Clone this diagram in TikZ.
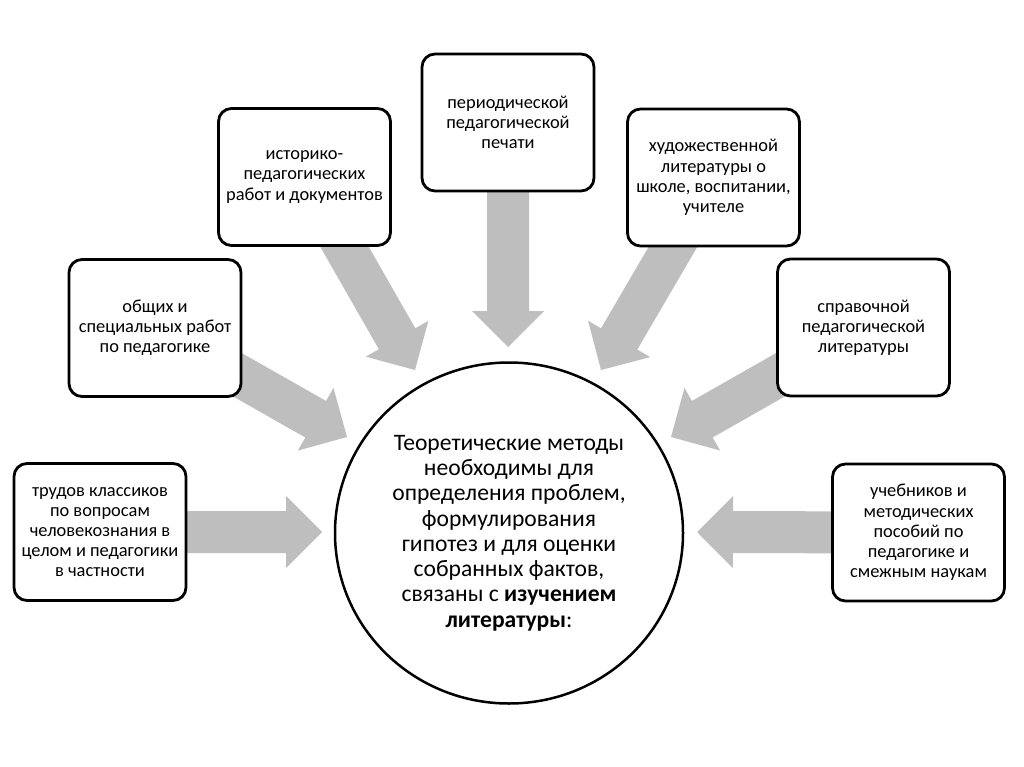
\documentclass[tikz,border=0pt]{standalone}
\usepackage{fontspec}
\setmainfont{Carlito}
\usetikzlibrary{calc,shapes.geometric}
\definecolor{arrowgray}{RGB}{190,190,190}
\tikzset{
  box/.style={draw=black, line width=2.8pt, rounded corners=13pt, fill=white,
    minimum width=172pt, minimum height=137pt, align=center,
    font=\fontsize{18.4}{20.2}\selectfont, inner sep=2pt},
  hub/.style={ellipse, draw=black, line width=2.5pt, fill=white,
    minimum width=348pt, minimum height=341pt, align=center, inner sep=0pt,
    font=\fontsize{23.6}{25.3}\selectfont},
}
\newcommand{\fatarrow}[2]{%
  \fill[arrowgray] ($(#1)!21pt!90:(#2)$)
    -- ($(#2)!36pt!(#1)!21pt!-90:(#1)$)
    -- ($(#2)!36pt!(#1)!36pt!-90:(#1)$)
    -- (#2)
    -- ($(#2)!36pt!(#1)!36pt!90:(#1)$)
    -- ($(#2)!36pt!(#1)!21pt!90:(#1)$)
    -- ($(#1)!21pt!-90:(#2)$) -- cycle;}
\begin{document}
\begin{tikzpicture}[x=1pt,y=-1pt]
\useasboundingbox (0,0) rectangle (1024,767);
\fill[white] (0,0) rectangle (1024,767);
% anchor points for boxes
\coordinate (c1) at (100,532);
\coordinate (c2) at (155,328);
\coordinate (c3) at (304.5,177);
\coordinate (c4) at (508,122.5);
\coordinate (c5) at (713.5,177.5);
\coordinate (c6) at (863.5,327.5);
\coordinate (c7) at (918.5,532.5);
% arrow tips
\coordinate (t1) at (322,532);
\coordinate (t2) at (347,437);
\coordinate (t3) at (415,370);
\coordinate (t4) at (508,347);
\coordinate (t5) at (601,370);
\coordinate (t6) at (671,437);
\coordinate (t7) at (697,532);
% arrows
\fatarrow{c1}{t1}
\fatarrow{c2}{t2}
\fatarrow{c3}{t3}
\fatarrow{c4}{t4}
\fatarrow{c5}{t5}
\fatarrow{c6}{t6}
\fatarrow{c7}{t7}
% boxes
\node[box] (b1) at (c1) {трудов классиков\\по вопросам\\человекознания в\\целом и педагогики\\в частности};
\node[box] (b2) at (c2) {общих и\\специальных работ\\по педагогике};
\node[box] (b3) at (c3) {историко-\\педагогических\\работ и документов};
\node[box] (b4) at (c4) {периодической\\педагогической\\печати};
\node[box] (b5) at (c5) {художественной\\литературы о\\школе, воспитании,\\учителе};
\node[box] (b6) at (c6) {справочной\\педагогической\\литературы};
\node[box] (b7) at (c7) {учебников и\\методических\\пособий по\\педагогике и\\смежным наукам};
% central circle
\node[hub] (hub) at (509,533) {Теоретические методы\\необходимы для\\определения проблем,\\формулирования\\гипотез и для оценки\\собранных фактов,\\связаны с \textbf{изучением}\\\textbf{литературы}:};
\end{tikzpicture}
\end{document}
